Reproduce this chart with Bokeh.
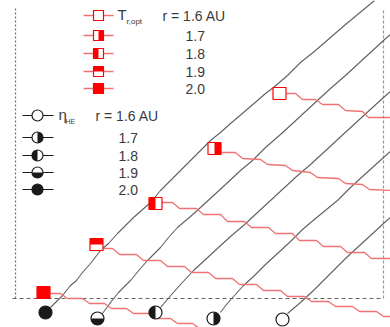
import math
from bokeh.plotting import figure
from bokeh.models import Range1d
from bokeh.core.properties import value
from bokeh.embed import file_html
from bokeh.resources import INLINE

# ---------------- data (picture units: x to the right, y downward) ----------------
r_values = ["1.6", "1.7", "1.8", "1.9", "2.0"]
fill_kind = ["open", "right", "left", "top", "full"]

# T_r,opt markers (squares) for r = 1.6 ... 2.0 AU
topt_x = [279, 214, 155, 96, 43]
topt_y = [93, 148, 203, 244, 292]
# eta_HE markers (circles)
eta_x = [282, 213, 155, 97, 45]
eta_y = [319, 318, 312, 318, 312]

# eta_HE curves (grey)
eta16_x = [287, 300, 313, 323, 333, 345, 358, 370, 383, 392]
eta16_y = [313, 302, 290, 280, 270, 258, 246, 235, 223, 215]
eta17_x = [220, 226, 233, 243, 253, 265, 277, 290, 302, 315, 326, 337, 350, 362, 372, 383, 392]
eta17_y = [312, 304, 296, 285, 276, 264, 253, 241, 229, 218, 209, 200, 187, 176, 167, 157, 149]
eta18_x = [160, 166, 172, 180, 193, 205, 218, 230, 243, 257, 270, 283, 296, 310, 322, 335, 348, 360, 372, 383, 392]
eta18_y = [307, 300, 293, 284, 270, 259, 247, 236, 225, 212, 200, 188, 176, 164, 153, 141, 129, 118, 107, 97, 89]
eta19_x = [102, 110, 118, 130, 140, 147, 160, 168, 177, 190, 200, 212, 225, 240, 252, 265, 280, 292, 305, 318, 330, 345, 358, 370, 383, 392]
eta19_y = [313, 302, 292, 280, 268, 260, 247, 237, 227, 216, 207, 196, 184, 170, 160, 147, 134, 123, 111, 99, 88, 75, 63, 52, 40, 32]
eta20_x = [50, 57, 62, 70, 76, 82, 90, 100, 108, 117, 124, 133, 141, 150, 160, 170, 180, 190, 200, 210, 220, 230, 243, 257, 265, 273, 287, 300, 315, 330, 345, 362, 374]
eta20_y = [307, 300, 295, 285, 280, 272, 263, 250, 243, 233, 226, 217, 210, 202, 190, 180, 170, 160, 150, 140, 132, 123, 112, 100, 93, 87, 75, 62, 50, 37, 24, 10, 0]

# T_r,opt curves (red, stepped)
t16_x = [286, 295, 302, 315, 322, 338, 345, 362, 368, 392]
t16_y = [93, 93, 99, 99, 104, 104, 110, 111, 117, 117]
t17_x = [220, 235, 242, 260, 267, 285, 292, 310, 317, 338, 345, 362, 369, 392]
t17_y = [152, 152, 158, 159, 164, 165, 170, 172, 177, 178, 183, 184, 189, 190]
t18_x = [160, 172, 179, 196, 203, 220, 227, 244, 251, 268, 275, 292, 299, 316, 323, 340, 347, 364, 371, 392]
t18_y = [202, 202, 208, 208, 214, 214, 221, 221, 227, 227, 233, 233, 240, 240, 246, 246, 252, 252, 258, 258]
t19_x = [102, 112, 119, 136, 143, 160, 167, 184, 191, 208, 215, 232, 239, 256, 263, 280, 287, 304, 311, 328, 335, 352, 359, 376, 383, 392]
t19_y = [248, 248, 254, 254, 260, 260, 266, 266, 272, 272, 278, 278, 284, 284, 290, 290, 296, 296, 301, 301, 306, 306, 311, 311, 316, 316]
t20_x = [50, 60, 67, 82, 89, 104, 111, 126, 133, 148, 155, 170, 177, 192, 199, 214]
t20_y = [293, 293, 298, 298, 303, 303, 308, 308, 313, 313, 318, 318, 323, 323, 328, 328]

eta_curves = [(eta16_x, eta16_y), (eta17_x, eta17_y), (eta18_x, eta18_y), (eta19_x, eta19_y), (eta20_x, eta20_y)]
t_curves = [(t16_x, t16_y), (t17_x, t17_y), (t18_x, t18_y), (t19_x, t19_y), (t20_x, t20_y)]

# legend rows
leg_t_rows = [15, 35, 53, 71, 88]
leg_eta_rows = [115, 137, 155, 172, 189]

# ---------------- style ----------------
RED = "#ff0000"
RED_LINE = "#f07272"
GREY_LINE = "#606060"
DARK = "#1a1a1a"
TXT = "#3a3a3a"
FONT = value("Liberation Sans")

W, H = 390, 327
p = figure(width=W, height=H, output_backend="svg", toolbar_location=None,
           x_range=Range1d(0, W), y_range=Range1d(H, 0),
           min_border=0, min_border_left=0, min_border_right=0,
           min_border_top=0, min_border_bottom=0)
p.axis.visible = False
p.grid.visible = False
p.outline_line_color = None
p.background_fill_color = "white"
p.border_fill_color = "white"

# frame (dashed)
p.line([15, 15], [8, 298], line_color="#777777", line_width=1.3, line_dash="2 2")
p.line([12, 380], [298, 298], line_color="#666666", line_width=1.2, line_dash="4 3")
p.line([383, 383], [10, 298], line_color="#999999", line_width=1.2, line_dash="3 2")

# curves
for cx, cy in eta_curves:
    p.line(cx, cy, line_color=GREY_LINE, line_width=1.1)
for cx, cy in t_curves:
    p.line(cx, cy, line_color=RED_LINE, line_width=1.3)


def draw_squares(xs, ys, kinds, w, h):
    p.rect(xs, ys, width=w, height=h, fill_color="white", line_color=None)
    for x, y, k in zip(xs, ys, kinds):
        if k == "full":
            p.rect(x, y, width=w, height=h, fill_color=RED, line_color=None)
        elif k == "right":
            p.rect(x + w / 4, y, width=w / 2, height=h, fill_color=RED, line_color=None)
        elif k == "left":
            p.rect(x - w / 4, y, width=w / 2, height=h, fill_color=RED, line_color=None)
        elif k == "top":
            p.rect(x, y - h / 4, width=w, height=h / 2, fill_color=RED, line_color=None)
    p.rect(xs, ys, width=w, height=h, fill_color=None, line_color=RED, line_width=1.2)


def draw_circles(xs, ys, kinds, r):
    p.circle(xs, ys, radius=r, fill_color="white", line_color=None)
    for x, y, k in zip(xs, ys, kinds):
        if k == "full":
            p.circle([x], [y], radius=r, fill_color=DARK, line_color=None)
        elif k == "right":
            p.wedge([x], [y], radius=r, start_angle=-math.pi / 2, end_angle=math.pi / 2,
                    fill_color=DARK, line_color=None)
        elif k == "left":
            p.wedge([x], [y], radius=r, start_angle=math.pi / 2, end_angle=3 * math.pi / 2,
                    fill_color=DARK, line_color=None)
        elif k == "top":
            p.wedge([x], [y], radius=r, start_angle=math.pi, end_angle=2 * math.pi,
                    fill_color=DARK, line_color=None)
    p.circle(xs, ys, radius=r, fill_color=None, line_color=DARK, line_width=1.2)


draw_squares(topt_x, topt_y, fill_kind, 13, 12)
draw_circles(eta_x, eta_y, fill_kind, 6.5)

# ---------------- legends ----------------
for yy in leg_t_rows:
    p.line([83, 113], [yy, yy], line_color=RED_LINE, line_width=1.3)
draw_squares([98] * 5, leg_t_rows, fill_kind, 10, 10)

for yy in leg_eta_rows:
    p.line([22, 53], [yy, yy], line_color=DARK, line_width=1.1)
draw_circles([37] * 5, leg_eta_rows, fill_kind, 5.5)

common = dict(text_font=FONT, text_color=TXT, text_baseline="middle", text_align="left")
p.text([117], [leg_t_rows[0] - 1], text=["T"], text_font_size="15px", **common)
p.text([126], [leg_t_rows[0] + 6], text=["r,opt"], text_font_size="8px", **common)
p.text([162], [leg_t_rows[0]], text=["r = " + r_values[0] + " AU"], text_font_size="14px", **common)
p.text([185] * 4, leg_t_rows[1:], text=r_values[1:], text_font_size="14px", **common)

p.text([58], [leg_eta_rows[0] - 1], text=["η"], text_font_size="15px", **common)
p.text([65], [leg_eta_rows[0] + 6], text=["HE"], text_font_size="7px", **common)
p.text([95], [leg_eta_rows[0]], text=["r = " + r_values[0] + " AU"], text_font_size="14px", **common)
p.text([118] * 4, leg_eta_rows[1:], text=r_values[1:], text_font_size="14px", **common)

open("out.html", "w").write(file_html(p, INLINE))
